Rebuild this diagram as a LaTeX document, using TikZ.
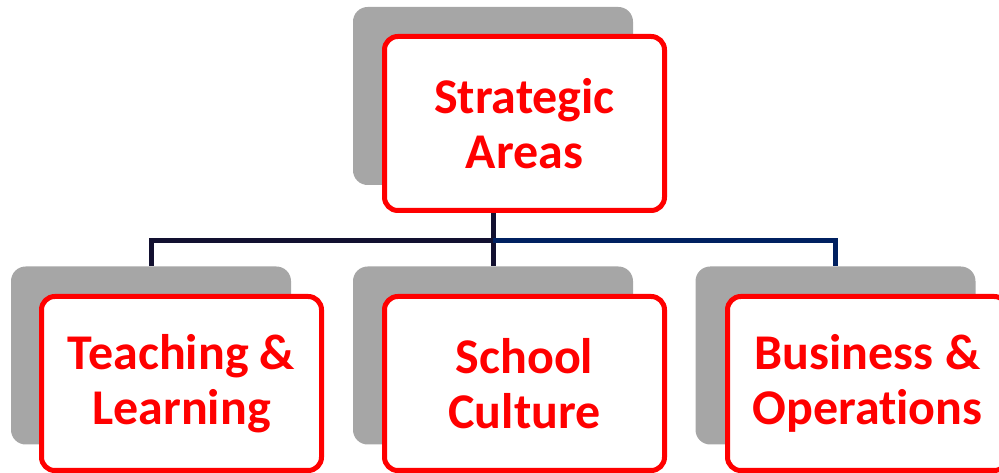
\documentclass[tikz,border=0pt]{standalone}
\usepackage{fontspec}
\setmainfont{Carlito}[Ligatures={NoCommon}]
\usepackage{tikz}
\usetikzlibrary{positioning}
\definecolor{boxred}{RGB}{255,0,0}
\definecolor{shadegray}{RGB}{166,166,166}
\definecolor{linedark}{RGB}{18,16,48}
\definecolor{linenavy}{RGB}{0,32,96}
\begin{document}
\begin{tikzpicture}[x=0.75pt,y=-0.75pt,
		shade/.style={rectangle,fill=shadegray,rounded corners=11pt,minimum width=210pt,minimum height=133.5pt,inner sep=0pt},
		area/.style={rectangle,draw=boxred,fill=white,line width=3.75pt,rounded corners=10pt,minimum width=210pt,minimum height=130.5pt,inner sep=0pt,align=center,text=boxred,font=\bfseries\fontsize{37.5}{41}\selectfont},
		link/.style={line width=3.75pt,color=linedark}]
		\useasboundingbox (0,0) rectangle (999,473);
		% grey backing cards
		\node[shade]  (sTop)    at (493,96)      {};
		\node[shade]  (sTeach)  at (151,355.5)   {};
		\node[shade]  (sCult)   at (493,355.5)   {};
		\node[shade]  (sBus)    at (835.5,355.5) {};
		
		% connectors
		\coordinate (bus) at (493,241);
		\draw[link] (sTop.south) -- (bus);
		\draw[link] (bus) -| (sTeach.north);
		\draw[link] (bus) -- (sCult.north);
		\draw[link,color=linenavy] (bus) -| (sBus.north);
		
		% red boxes
		\node[area]   (top)     at (524.5,123.5) {Strategic\\Areas};
		\node[area]   (teach)   at (181.5,383.5) {Teaching \&\\Learning};
		\node[area]   (cult)    at (524.5,383.5) {School\\Culture};
		\node[area]   (busi)    at (867.5,383.5) {Business \&\\Operations};
		\end{tikzpicture}
\end{document}
